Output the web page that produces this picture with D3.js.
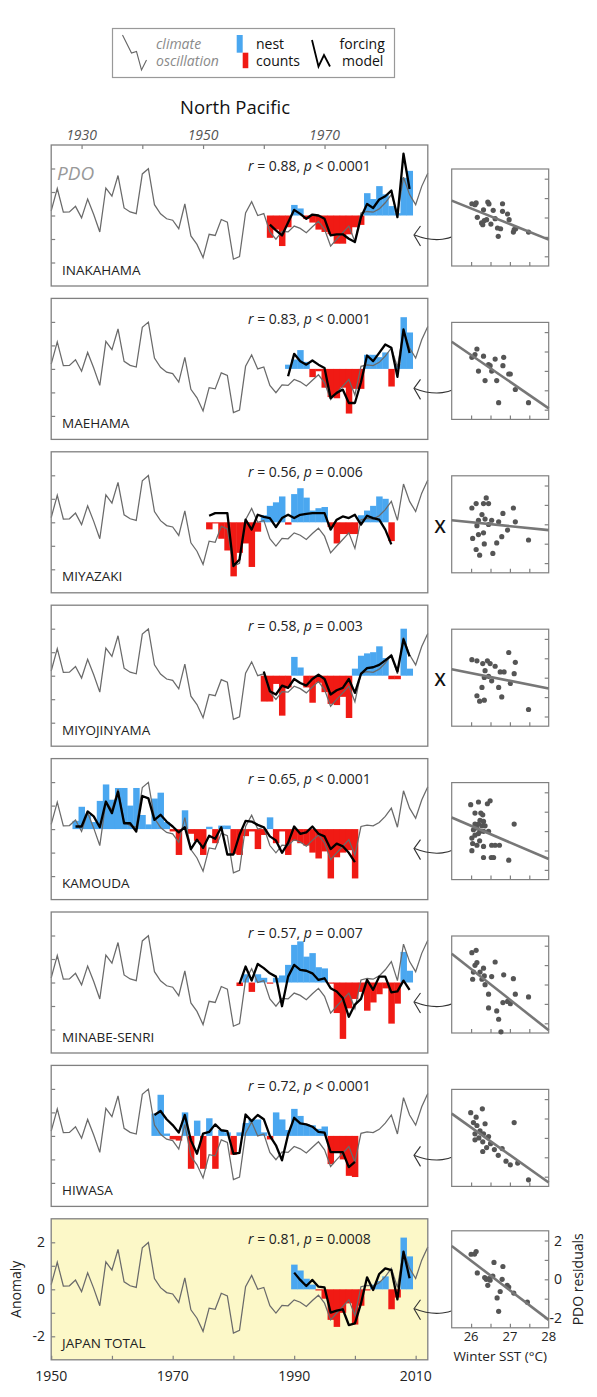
<!DOCTYPE html>
<html><head><meta charset="utf-8">
<script src="https://cdn.jsdelivr.net/npm/d3@7"></script>
<style>body{margin:0;background:#fff;} svg{display:block;font-family:'Open Sans',sans-serif;}</style>
</head><body><svg id="c" width="597" height="1397"></svg>
<script>
// ---------- DATA ----------
const pdoStart = 1950;
const pdo = [0.2, 1.15, 0.14, 0.15, 0.39, -0.1, 0.7, 0.04, -0.7, 1.17, 0.82, 1.7, 0.32, 0.15, 0.08, 1.77, 1.99, 0.46, 0.07, -0.14,
  -0.2, -0.56, 0.49, -0.87, -1.23, -1.79, -0.8, -0.85, -0.17, -0.28, -1.86, -1.75, 0.11, 0.59, 0, 0.08, -0.7, -1.01, -0.68, -0.7,
  -0.45, -0.55, -0.73, -0.48, -0.25, -0.59, -1.3, -1.01, -0.73, -0.45, -1.11, 0.11, 0.17, 0.14, 0.28, 0.54, 0.89, 0.08, 1.63, 0.89,
  0.46, 1.24, 1.8];

const stations = ["INAKAHAMA", "MAEHAMA", "MIYAZAKI", "MIYOJINYAMA", "KAMOUDA", "MINABE-SENRI", "HIWASA", "JAPAN TOTAL"];
const rValues = ["0.88", "0.83", "0.56", "0.58", "0.65", "0.57", "0.72", "0.81"];
const pSigns = ["<", "<", "=", "=", "<", "=", "<", "="];
const pValues = ["0.0001", "0.0001", "0.006", "0.003", "0.0001", "0.007", "0.0001", "0.0008"];
const seriesStart = [1986, 1989, 1976, 1985, 1954, 1981, 1967, 1990];
const linkType = ["arrow", "arrow", "x", "x", "arrow", "arrow", "arrow", "arrow"];

const inakahamaNest = [-0.95, -0.6, -1.3, -0.5, 0.45, 0.3, -0.15, -0.3, -0.6, -0.7, -0.8, -1.2, -1.2, -0.8, -0.5, -0.4, 0.95, 0.7, 1.25, 0.9, 0.4, 0.1, 1.6, 1.9];
const inakahamaModel = [-0.39, -0.63, -0.85, -0.3, 0.24, 0.07, -0.14, 0.04, 0, -0.14, -0.85, -0.8, -0.8, -0.99, -1.13, -0.07, 0.49, 0.32, 0.68, 0.82, 1.06, -0.07, 2.63, 1.13];
const maehamaNest = [0.18, 0.4, 0.8, 0.3, -0.35, -0.1, -0.8, -1.2, -1.25, -0.8, -1.9, -0.85, -0.85, 0.6, 0.6, 0.5, 0.7, -0.75, 0.2, 2.2, 1.55];
const maehamaModel = [-0.31, 0.64, 0.33, 0.18, 0.36, 0.18, 0.04, -1.24, -1.02, -0.88, -1.45, -1.45, -0.57, 0.57, 0.33, 0.68, 1.04, 0.9, -0.34, 1.68, 0.68];
const miyazakiNest = [-0.3, -0.05, -0.7, -1.2, -2.3, -1.3, -0.9, -1.9, -0.4, 0.3, 0.7, 0.85, 1.1, -0.1, 1.2, 1.45, 1.05, 0.5, 0.6, 0.65, -0.2, -0.9, -0.5, -0.5, -0.5, 0.3, 0.5, 0.7, 1.1, 1.0, -0.8];
const miyazakiModel = [0.28, 0.39, 0.39, 0.39, -1.86, -1.58, 0.11, -0.31, 0.32, 0.23, 0.18, -0.2, 0.18, 0.32, 0.18, 0.32, 0.36, 0.39, 0.39, 0.39, -0.31, 0.11, 0.25, 0.18, 0.32, -0.1, 0.28, 0.18, 0.11, -0.31, -0.94];
const miyojinyamaNest = [-1.1, -1.1, -0.35, -1.7, -0.5, 0.8, 0.35, -0.5, -1.15, -0.3, -0.7, -1.2, -1.25, -0.9, -1.8, 0.3, 0.85, 0.95, 1.0, 1.25, 0.75, -0.15, -0.15, 2.0, 0.3];
const miyojinyamaModel = [0.18, -0.66, -0.8, -0.42, -0.52, -0.14, -0.31, -0.42, -0.14, 0.04, -0.14, -0.8, -0.62, -0.52, -0.14, -0.73, 0.08, 0.32, 0.36, 0.46, 0.65, 0.86, 0.18, 1.55, 0.82];
const kamoudaNest = [0.35, 0.95, 0.6, 0.3, 1.2, 1.9, 1.25, 1.75, 1.75, 1.0, 1.75, 0.6, 0.2, 1.3, 1.55, 0.3, -0.1, -1.1, 0.8, -0.2, -0.5, -1.1, 0.1, -0.6, 0.15, 0.15, -1.05, -1.1, -0.3, -0.1, -0.85, -0.25, 0.5, -0.6, -0.1, -1.1, -0.5, -0.6, -0.7, -1.0, -1.25, -0.95, -2.1, -1.2, -1.0, -0.9, -2.1];
const kamoudaModel = [0.11, 0.11, 0.75, 0.54, 0.08, 1.17, 0.68, 1.59, 0.25, 0.25, -0.1, 1.41, 1.31, 0.39, 0.61, 0.32, 0.11, -0.14, 0.08, -0.85, -0.45, -0.8, -0.28, -0.41, 0.08, -1.08, -1.08, -0.24, 0.35, 0.32, 0.18, 0.08, -0.31, -0.48, -1.01, -0.59, 0.11, -0.2, -0.14, 0.11, -0.2, -0.31, -0.85, -0.62, -0.73, -1.01, -1.41];
const minabeNest = [-0.15, 0.35, -0.4, 0.35, 0.2, -0.05, 0.2, 0.3, 0.75, 1.6, 1.75, 1.1, 1.25, 0.65, 0.6, -0.05, -1.3, -2.4, -1.1, -0.7, -0.4, -1.2, -0.85, -0.5, -0.25, -1.75, -0.9, 1.3, 0.5];
const minabeModel = [-0.06, 0.68, 0.08, 0.79, 0.61, 0.39, 0.25, -1.01, 0.25, 0.75, 0.54, 0.5, 0.39, 0.11, 0.18, -0.24, -0.38, -0.66, -1.46, -0.94, -0.7, 0.11, -0.31, 0.25, 0.25, -0.42, -0.38, 0.08, -0.31];
const hiwasaNest = [0.95, 1.75, 0.1, -0.15, -0.2, 1.0, -1.4, 0.65, -1.4, 0.75, -1.4, 0.25, 0.15, -0.8, 0.15, 0.55, 0.7, 0.7, 0.15, -0.15, 1.0, 0.7, 0.25, 1.15, 0.85, 0.5, 0.45, 0.3, 0.4, -1.2, -0.7, -1.0, -1.7, -1.75];
const hiwasaModel = [0.89, 1.06, 0.71, 0.46, 0.14, 0.89, -0.19, -0.76, 0.1, 0.17, 0.49, 0.24, 0.2, -0.76, -0.72, 0.91, 0.63, 0.89, 0.71, 0, -0.4, -1.04, 0.06, 0.77, 0.53, 0.49, 0.39, 0.17, 0.14, -0.69, -0.69, -0.69, -1.33, -1.11];
const japanNest = [1.05, 0.8, 0.45, 0.2, -0.05, -0.4, -1.3, -1.6, -1.0, -0.6, -1.5, -0.7, -0.05, 0.2, 0.35, 0.55, -0.85, -0.35, 2.2, 1.4];
const japanModel = [0.71, 0.4, 0.14, 0.4, 0.11, 0.08, -0.99, -0.91, -0.85, -1.52, -1.45, -0.6, 0.51, -0.03, 0.65, 0.89, 0.82, -0.43, 1.6, 0.47];

const nestSeries = [inakahamaNest, maehamaNest, miyazakiNest, miyojinyamaNest, kamoudaNest, minabeNest, hiwasaNest, japanNest];
const modelSeries = [inakahamaModel, maehamaModel, miyazakiModel, miyojinyamaModel, kamoudaModel, minabeModel, hiwasaModel, japanModel];

// scatter: [winter SST, PDO residual]
const inakahamaScatter = [[26.02,0.71],[26.13,0.75],[26.10,0.66],[26.32,0.40],[26.43,0.80],[26.46,0.70],[26.57,0.37],[26.81,0.71],[26.81,0.32],[26.94,0.18],[26.98,-0.11],[26.16,0.01],[26.27,-0.28],[26.34,-0.16],[26.30,-0.37],[26.40,-0.11],[26.51,-0.34],[26.68,-0.54],[26.76,-0.58],[26.70,-0.97],[27.09,-0.75],[27.11,-0.63],[27.15,-0.58],[27.48,-0.75],[26.62,-0.06]];
const maehamaScatter = [[26.15,1.13],[26.02,0.70],[26.10,0.84],[26.32,0.76],[26.45,0.33],[26.62,0.61],[26.84,0.70],[26.82,0.27],[26.19,-0.01],[26.36,-0.5],[26.53,-0.01],[26.66,-0.5],[26.97,-0.16],[27.01,-0.16],[27.14,-0.96],[26.71,-1.64],[27.48,-1.64],[26.49,0.27]];
const miyazakiScatter = [[26.02,0.84],[26.13,1.07],[26.32,1.07],[26.39,1.36],[26.45,1.07],[26.28,0.5],[26.19,0.21],[26.15,-0.07],[26.36,0.27],[26.53,0.21],[26.45,-0.01],[26.71,0.13],[26.82,0.56],[27.09,0.84],[27.14,0.13],[26.04,-0.73],[26.19,-0.53],[26.32,-0.44],[26.34,-1.01],[26.79,-0.64],[26.66,-0.96],[26.13,-1.3],[26.22,-1.59],[26.56,-1.5],[26.94,-0.3],[27.48,-0.81]];
const miyojinyamaScatter = [[26.02,0.93],[26.15,0.87],[26.30,0.73],[26.42,0.87],[26.49,0.73],[26.62,0.59],[26.97,1.3],[27.14,0.79],[26.36,0.36],[26.34,0.01],[26.53,-0.16],[26.75,0.3],[26.85,0.3],[27.01,-0.3],[27.11,0.21],[26.28,-0.5],[26.71,-0.5],[26.79,-0.99],[26.15,-0.93],[26.22,-1.21],[26.34,-1.16],[27.48,-1.64],[26.45,0.07]];
const kamoudaScatter = [[25.99,1.36],[26.19,1.5],[26.42,1.41],[26.49,1.56],[26.10,0.93],[26.25,0.93],[26.30,0.84],[26.23,0.56],[26.32,0.5],[26.19,0.36],[26.28,0.27],[26.36,0.27],[26.06,0.07],[26.15,0.16],[26.23,-0.01],[26.32,-0.01],[26.45,-0.01],[26.10,-0.21],[26.02,-0.36],[26.19,-0.13],[26.04,-0.64],[26.15,-0.73],[26.02,-1.01],[26.32,-0.79],[26.53,-0.73],[26.62,-0.73],[26.73,-0.73],[27.11,0.36],[26.32,-1.36],[26.52,-1.36],[26.58,-1.36],[26.97,-1.5],[26.22,-0.5],[26.10,0.36]];
const minabeScatter = [[26.02,1.64],[26.13,1.76],[26.15,1.13],[26.10,0.99],[26.32,0.84],[26.23,0.64],[26.06,0.64],[26.04,0.27],[26.28,0.27],[26.36,-0.01],[26.34,0.44],[26.62,1.16],[26.53,0.41],[26.84,0.5],[27.09,0.3],[27.14,-0.5],[27.48,-0.64],[26.45,-0.5],[26.45,-1.21],[26.82,-0.93],[26.94,-0.87],[27.01,-0.99],[26.66,-1.36],[26.71,-1.79],[26.77,-2.44]];
const hiwasaScatter = [[25.99,1.3],[26.13,1.07],[26.29,1.5],[26.06,0.79],[26.15,0.64],[26.36,0.73],[27.11,0.79],[26.23,0.36],[26.32,0.21],[26.10,0.21],[26.45,0.07],[26.2,0.0],[26.3,-0.2],[26.5,-0.3],[26.4,-0.5],[26.6,-0.6],[26.8,-0.55],[26.7,-0.9],[27.01,-1.39],[26.9,-1.2],[27.2,-1.3],[27.48,-2.16],[26.3,-0.7],[26.1,-0.1]];
const japanScatter = [[26.0,1.29],[26.09,1.30],[26.13,1.43],[26.16,0.33],[26.35,0.09],[26.39,0],[26.43,-0.31],[26.46,0.03],[26.49,-0.05],[26.56,0.17],[26.59,0.87],[26.67,-0.96],[26.71,-1.65],[26.75,-0.63],[26.80,0],[26.82,0.66],[26.93,-0.31],[26.97,-0.40],[27.10,-0.71],[27.45,-1.18]];
const scatterSeries = [inakahamaScatter, maehamaScatter, miyazakiScatter, miyojinyamaScatter, kamoudaScatter, minabeScatter, hiwasaScatter, japanScatter];
// regression line values at SST 25.5 and 28
const fitLines = [[0.87,-1.14],[1.5,-1.93],[0.21,-0.3],[0.44,-0.56],[0.7,-1.44],[1.59,-2.36],[1.25,-2.3],[1.72,-2.09]];

const topAxisTicks = [1930, 1940, 1950, 1960, 1970, 1980];
const topAxisLabels = [1930, 1950, 1970];
const bottomAxisTicks = [1950, 1960, 1970, 1980, 1990, 2000, 2010];
const bottomAxisLabels = [1950, 1970, 1990, 2010];
const anomalyTicks = [-2, -1, 0, 1, 2];
const anomalyLabels = [2, 0, -2];
const sstTicks = [26, 26.5, 27, 27.5];
const sstLabels = [26, 27, 28];

// ---------- DRAW ----------
const svg = d3.select("#c");
const BLUE = "#4aa7f0", RED = "#f01a14";
const FS = 14;
const x = d3.scaleLinear().domain([1950, 2012]).range([51.2, 427.8]);
const xTop = d3.scaleLinear().domain([1925, 1987]).range([51.2, 427.8]);
const PH = 141;
const panelTop = k => 145 + k * 153.4;

// legend
const lg = svg.append("g");
lg.append("rect").attr("x", 112.5).attr("y", 28.5).attr("width", 282).attr("height", 49)
  .attr("fill", "none").attr("stroke", "#999").attr("stroke-width", 1.2);
lg.append("path").attr("d", "M122.5,35 L131.5,53 L136.5,51.5 L141.5,70 L146.5,60")
  .attr("fill", "none").attr("stroke", "#666").attr("stroke-width", 1.1);
lg.append("text").attr("x", 156).attr("y", 49).attr("font-size", FS).attr("font-style", "italic").attr("fill", "#8a8a8a").text("climate");
lg.append("text").attr("x", 156).attr("y", 66).attr("font-size", FS).attr("font-style", "italic").attr("fill", "#8a8a8a").text("oscillation");
lg.append("rect").attr("x", 236.7).attr("y", 35).attr("width", 6).attr("height", 17.7).attr("fill", BLUE);
lg.append("rect").attr("x", 242.7).attr("y", 52.7).attr("width", 5.6).attr("height", 15.5).attr("fill", RED);
lg.append("text").attr("x", 256).attr("y", 49).attr("font-size", FS).attr("fill", "#111").text("nest");
lg.append("text").attr("x", 256).attr("y", 66).attr("font-size", FS).attr("fill", "#111").text("counts");
lg.append("path").attr("d", "M312,40 L318.5,66.5 L324,55 L330,66.5")
  .attr("fill", "none").attr("stroke", "#000").attr("stroke-width", 1.8);
lg.append("text").attr("x", 339.5).attr("y", 49).attr("font-size", FS).attr("fill", "#111").text("forcing");
lg.append("text").attr("x", 342).attr("y", 66).attr("font-size", FS).attr("fill", "#111").text("model");

svg.append("text").attr("x", 235).attr("y", 114).attr("text-anchor", "middle").attr("font-size", 18.5).attr("fill", "#111").text("North Pacific");

// top axis labels
svg.append("g").selectAll("text").data(topAxisLabels).join("text")
  .attr("x", d => xTop(d)).attr("y", 139.5).attr("text-anchor", "middle").attr("font-size", FS)
  .attr("font-style", "italic").attr("fill", "#555").text(d => d);

const sx = d3.scaleLinear().domain([25.5, 28]).range([451.7, 548.7]);

stations.forEach((name, k) => {
  const t = panelTop(k);
  const y = d3.scaleLinear().domain([-3, 3]).range([t + PH, t]);
  const g = svg.append("g");
  if (k === 7) g.append("rect").attr("x", x(1950)).attr("y", t).attr("width", x(2012) - x(1950)).attr("height", PH).attr("fill", "#fcf8c8");
  const bars = nestSeries[k].map((v, j) => ({ yr: seriesStart[k] + j, v }));
  g.selectAll("rect.bar").data(bars).join("rect").attr("class", "bar")
    .attr("x", d => x(d.yr - 0.5)).attr("width", x(1951) - x(1950) + 0.4)
    .attr("y", d => y(Math.max(d.v, 0))).attr("height", d => Math.abs(y(d.v) - y(0)))
    .attr("fill", d => d.v >= 0 ? BLUE : RED);
  const pdoLine = d3.line().x((d, i) => x(pdoStart + i)).y(d => y(d));
  g.append("path").attr("d", pdoLine(pdo)).attr("fill", "none").attr("stroke", "#6a6a6a").attr("stroke-width", 1.25);
  const modelLine = d3.line().x((d, i) => x(seriesStart[k] + i)).y(d => y(d));
  g.append("path").attr("d", modelLine(modelSeries[k])).attr("fill", "none").attr("stroke", "#000")
    .attr("stroke-width", 2.3).attr("stroke-linejoin", "round");
  g.append("rect").attr("x", x(1950)).attr("y", t).attr("width", x(2012) - x(1950)).attr("height", PH)
    .attr("fill", "none").attr("stroke", "#808080").attr("stroke-width", 1.3);
  const la = g.append("g").attr("transform", `translate(${x(1950)},0)`)
    .call(d3.axisRight(y).tickValues(anomalyTicks).tickSize(4).tickFormat(""));
  la.select(".domain").remove();
  la.selectAll("line").attr("stroke", "#808080").attr("stroke-width", 1.2);
  if (k === 0) {
    const ta = g.append("g").attr("transform", `translate(0,${t})`)
      .call(d3.axisBottom(xTop).tickValues(topAxisTicks).tickSize(4).tickFormat(""));
    ta.select(".domain").remove();
    ta.selectAll("line").attr("stroke", "#808080").attr("stroke-width", 1.2);
    g.append("text").attr("x", 57).attr("y", t + 35).attr("font-size", 19).attr("font-style", "italic").attr("fill", "#999").text("PDO");
  }
  if (k === 7) {
    const ba = g.append("g").attr("transform", `translate(0,${t + PH})`)
      .call(d3.axisTop(x).tickValues(bottomAxisTicks).tickSize(4).tickFormat(""));
    ba.select(".domain").remove();
    ba.selectAll("line").attr("stroke", "#808080").attr("stroke-width", 1.2);
    g.selectAll("text.bx").data(bottomAxisLabels).join("text").attr("class", "bx")
      .attr("x", d => x(d)).attr("y", t + PH + 21.5).attr("text-anchor", "middle").attr("font-size", FS).attr("fill", "#222").text(d => d);
    g.selectAll("text.ly").data(anomalyLabels).join("text").attr("class", "ly")
      .attr("x", 45).attr("y", d => y(d) + 5).attr("text-anchor", "end").attr("font-size", FS).attr("fill", "#222").text(d => d);
    g.append("text").attr("transform", `translate(21,${y(0)}) rotate(-90)`).attr("text-anchor", "middle")
      .attr("font-size", FS).attr("fill", "#222").text("Anomaly");
  }
  // r/p text
  const rt = g.append("text").attr("x", 248).attr("y", t + 25.5).attr("font-size", FS).attr("fill", "#222");
  rt.append("tspan").attr("font-style", "italic").text("r");
  rt.append("tspan").text(` = ${rValues[k]}, `);
  rt.append("tspan").attr("font-style", "italic").text("p");
  rt.append("tspan").text(` ${pSigns[k]} ${pValues[k]}`);
  g.append("text").attr("x", 62).attr("y", t + PH - 11.5).attr("font-size", 13.5).attr("fill", "#222").text(name);

  // link marker
  if (linkType[k] === "arrow") {
    g.append("path").attr("d", `M463,${t + 85} C452,${t + 95} 435,${t + 98} 414.5,${t + 90}`)
      .attr("fill", "none").attr("stroke", "#333").attr("stroke-width", 1.1);
    g.append("path").attr("d", `M420.5,${t + 81} L414,${t + 90} L420.5,${t + 101}`)
      .attr("fill", "none").attr("stroke", "#333").attr("stroke-width", 1.1);
  } else {
    g.append("text").attr("x", 440).attr("y", t + 81).attr("text-anchor", "middle").attr("font-size", 18)
      .attr("font-weight", 600).attr("fill", "#111").text("X");
  }

  // scatter
  const st = k === 7 ? t + 12 : t + 24;
  const sy = d3.scaleLinear().domain([-2.5, 2.5]).range([st + 97, st]);
  const sg = g.append("g");
  sg.append("rect").attr("x", sx(25.5)).attr("y", st).attr("width", sx(28) - sx(25.5)).attr("height", 97)
    .attr("fill", "#fff").attr("stroke", "#808080").attr("stroke-width", 1.2);
  const bx = sg.append("g").attr("transform", `translate(0,${st + 97})`)
    .call(d3.axisTop(sx).tickValues(sstTicks).tickSize(4).tickFormat(""));
  bx.select(".domain").remove();
  bx.selectAll("line").attr("stroke", "#808080").attr("stroke-width", 1.2);
  const ry = sg.append("g").attr("transform", `translate(${sx(28)},0)`)
    .call(d3.axisLeft(sy).tickValues(anomalyTicks).tickSize(4).tickFormat(""));
  ry.select(".domain").remove();
  ry.selectAll("line").attr("stroke", "#808080").attr("stroke-width", 1.2);
  sg.selectAll("circle").data(scatterSeries[k]).join("circle")
    .attr("cx", d => sx(d[0])).attr("cy", d => sy(d[1])).attr("r", 2.6).attr("fill", "#555");
  sg.append("line").attr("x1", sx(25.5)).attr("y1", sy(fitLines[k][0])).attr("x2", sx(28)).attr("y2", sy(fitLines[k][1]))
    .attr("stroke", "#777").attr("stroke-width", 2.6);
  if (k === 7) {
    sg.selectAll("text.sxl").data(sstLabels).join("text").attr("class", "sxl")
      .attr("x", d => sx(d)).attr("y", st + 110.5).attr("text-anchor", "middle").attr("font-size", 13).attr("fill", "#222").text(d => d);
    sg.append("text").attr("x", sx(26.75)).attr("y", st + 130).attr("text-anchor", "middle").attr("font-size", 13.5).attr("fill", "#222").text("Winter SST (°C)");
    sg.selectAll("text.syl").data(anomalyLabels).join("text").attr("class", "syl")
      .attr("x", 562).attr("y", d => sy(d) + 5).attr("text-anchor", "end").attr("font-size", FS).attr("fill", "#222").text(d => d);
    sg.append("text").attr("transform", `translate(583,${sy(0)}) rotate(-90)`).attr("text-anchor", "middle")
      .attr("font-size", FS).attr("fill", "#222").text("PDO residuals");
  }
});
</script></body></html>
